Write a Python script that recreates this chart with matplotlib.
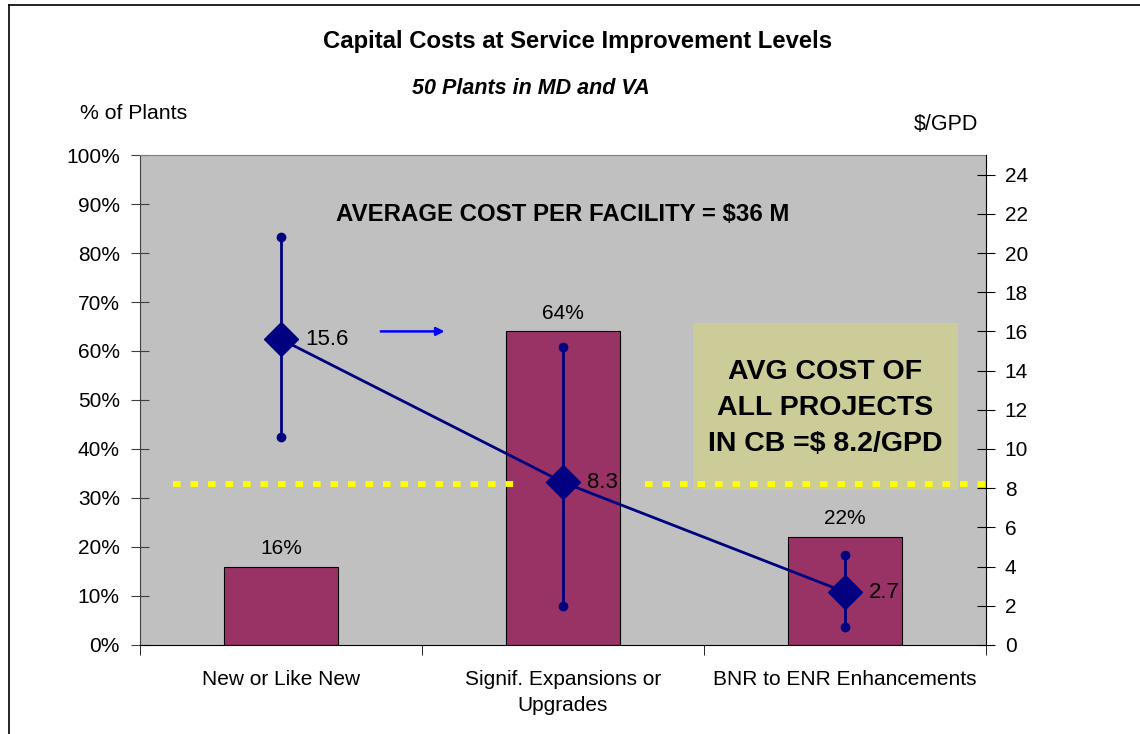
import matplotlib.pyplot as plt
from matplotlib.lines import Line2D
from matplotlib.patches import Rectangle

plt.rcParams['font.family'] = ['Liberation Sans', 'DejaVu Sans']

# data
categories = ['New or Like New', 'Signif. Expansions or\nUpgrades', 'BNR to ENR Enhancements']
pct_plants = [16, 64, 22]
cost_avg = [15.6, 8.3, 2.7]
cost_high = [20.8, 15.2, 4.6]
cost_low = [10.6, 2.0, 0.9]
cb_avg = 8.2

fig = plt.figure(figsize=(11.4, 7.34), dpi=100)
ax = fig.add_axes([0.1228, 0.1213, 0.7421, 0.6675])
ax2 = ax.twinx()

x = list(range(len(categories)))

# bars (left axis)
ax.set_facecolor('#C0C0C0')
ax.bar(x, pct_plants, width=0.405, color='#993366', edgecolor='black', linewidth=0.8, zorder=2)
for xi, v in zip(x, pct_plants):
    ax.text(xi, v + 1.8, f'{v}%', ha='center', va='bottom', fontsize=15)

ax.set_xlim(-0.5, 2.5)
ax.set_ylim(0, 100)
ax.set_yticks(range(0, 101, 10))
ax.set_yticklabels([f'{v}%' for v in range(0, 101, 10)], fontsize=15)
ax.set_xticks(x)
ax.set_xticklabels(categories, fontsize=15, linespacing=1.5)
ax.tick_params(axis='x', which='major', length=0, pad=18)
ax.set_xticks([-0.5, 0.5, 1.5, 2.5], minor=True)
ax.tick_params(axis='x', which='minor', length=7, direction='out', color='black')
ax.tick_params(axis='y', direction='inout', length=13, color='#404040', pad=8)

ax.spines['top'].set_color('#808080')
ax.spines['left'].set_color('#404040')
ax.spines['bottom'].set_color('black')
ax.spines['right'].set_visible(False)

# average box and text
ax.add_patch(Rectangle((1.461, 31.6), 0.94, 34.1, facecolor='#CCCC99', edgecolor='none', zorder=3))
ax.text(1.93, 48.3, 'AVG COST OF\nALL PROJECTS\nIN CB =$ 8.2/GPD', ha='center', va='center',
        fontsize=20.5, fontweight='bold', linespacing=1.5, zorder=4)
ax.text(1.0, 87.8, 'AVERAGE COST PER FACILITY = $36 M', ha='center', va='center',
        fontsize=17.3, fontweight='bold', zorder=4)

# cost line (right axis)
ax2.set_ylim(0, 25)
ax2.set_yticks(range(0, 25, 2))
ax2.tick_params(axis='y', direction='inout', length=13, labelsize=15, pad=7)
for s in ['top', 'left', 'bottom']:
    ax2.spines[s].set_visible(False)
ax2.spines['right'].set_color('black')

ax2.plot([-0.383, 0.83], [cb_avg, cb_avg], color='#FFFF00', linewidth=4.2,
         linestyle=(0, (1.3, 1.7)), dash_capstyle='butt', zorder=5)
ax2.plot([1.29, 2.5], [cb_avg, cb_avg], color='#FFFF00', linewidth=4.2,
         linestyle=(0, (1.3, 1.7)), dash_capstyle='butt', zorder=5, clip_on=False)

ax2.vlines(x, cost_low, cost_high, color='#000080', linewidth=2, zorder=6)
ax2.plot(x, cost_high, 'o', color='#000080', markersize=6, zorder=6)
ax2.plot(x, cost_low, 'o', color='#000080', markersize=6, zorder=6)
ax2.plot(x, cost_avg, color='#000080', linewidth=2, marker='D', markersize=17, zorder=7)
for xi, v in zip(x, cost_avg):
    ax2.text(xi + 0.085, v, f'{v}', ha='left', va='center', fontsize=16, zorder=8)

ax2.annotate('', xy=(0.59, 16.0), xytext=(0.344, 16.0),
             arrowprops=dict(arrowstyle='-|>', color='#0000FF', lw=1.8, mutation_scale=12))

# titles
fig.text(0.507, 0.943, 'Capital Costs at Service Improvement Levels', ha='center', va='center',
         fontsize=17.2, fontweight='bold')
fig.text(0.466, 0.879, '50 Plants in MD and VA', ha='center', va='center',
         fontsize=15.5, fontweight='bold', style='italic')
fig.text(0.07, 0.846, '% of Plants', ha='left', va='center', fontsize=15.3)
fig.text(0.8295, 0.830, '$/GPD', ha='center', va='center', fontsize=15.5)

# chart frame
fig.add_artist(Line2D([0.008, 0.008], [0, 0.993], color='black', linewidth=1.2))
fig.add_artist(Line2D([0.008, 1], [0.993, 0.993], color='black', linewidth=1.2))

fig.savefig('out.png', dpi=100)
